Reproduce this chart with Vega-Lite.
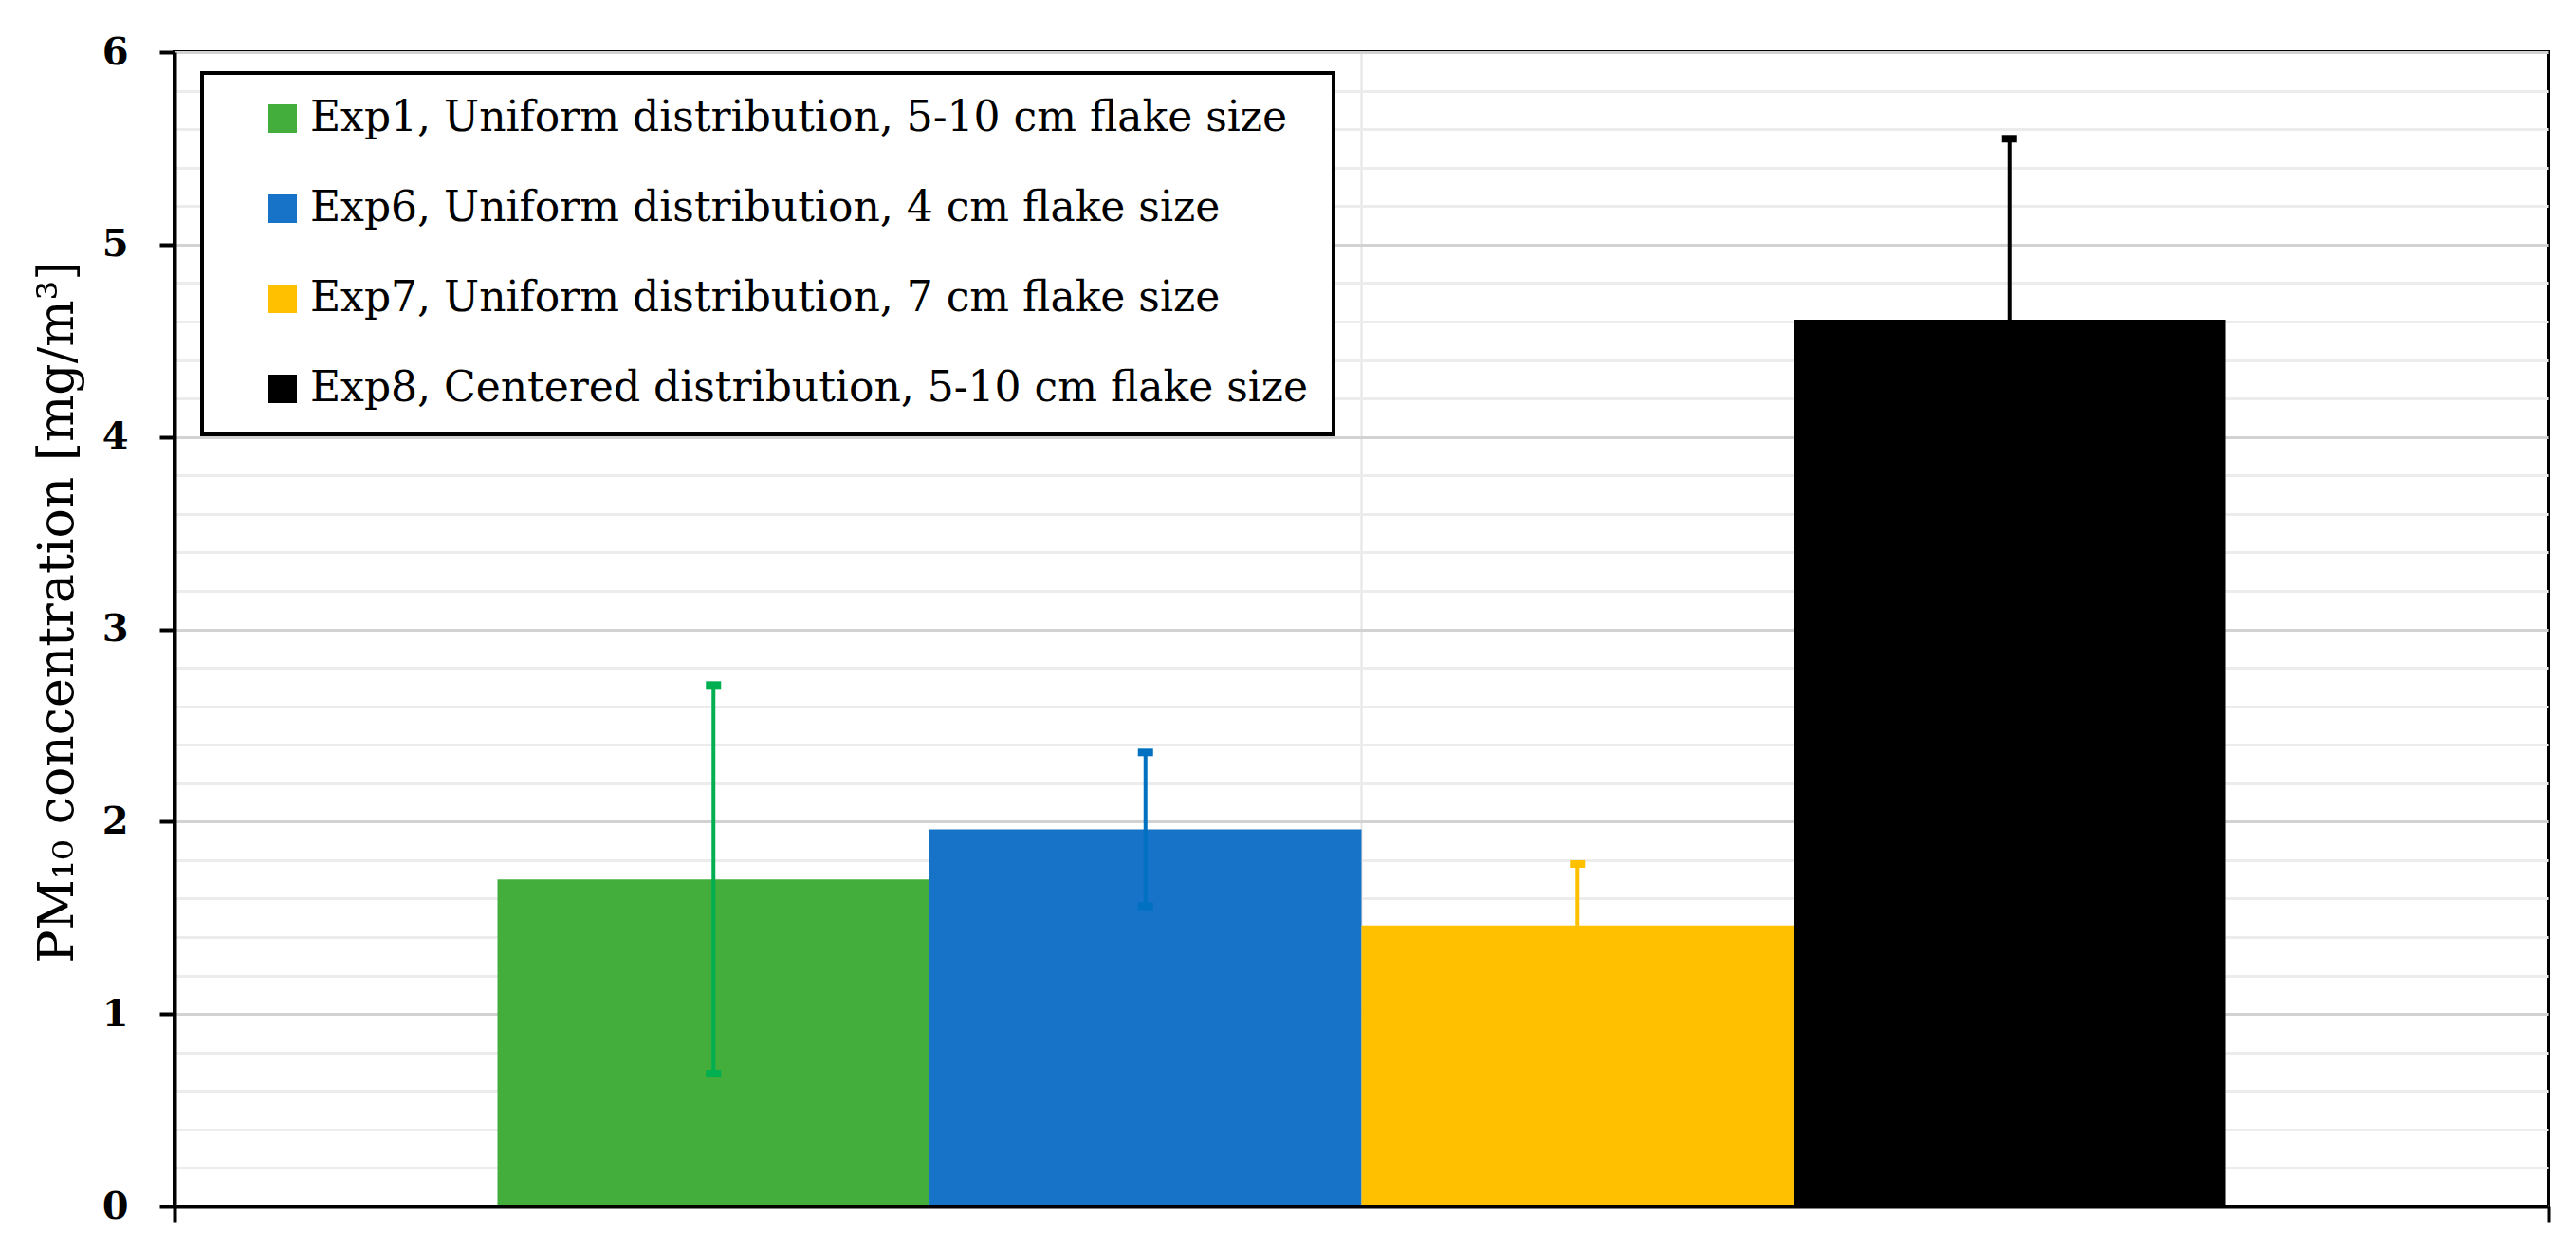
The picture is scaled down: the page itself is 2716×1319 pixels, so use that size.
{
  "$schema": "https://vega.github.io/schema/vega-lite/v6.json",
  "width": 2503,
  "height": 1217,
  "autosize": {"type": "none"},
  "padding": {"left": 184, "top": 55, "right": 29, "bottom": 47},
  "background": "white",
  "config": {
    "view": {"stroke": "black", "strokeWidth": 4},
    "font": "DejaVu Serif"
  },
  "data": {
    "values": [
      {"grp": "PM10", "series": "Exp1, Uniform distribution, 5-10 cm flake size", "value": 1.70, "lo": 0.69, "hi": 2.71},
      {"grp": "PM10", "series": "Exp6, Uniform distribution, 4 cm flake size", "value": 1.96, "lo": 1.56, "hi": 2.36},
      {"grp": "PM10", "series": "Exp7, Uniform distribution, 7 cm flake size", "value": 1.46, "lo": 1.14, "hi": 1.78},
      {"grp": "PM10", "series": "Exp8, Centered distribution, 5-10 cm flake size", "value": 4.61, "lo": 3.67, "hi": 5.55}
    ]
  },
  "resolve": {"axis": {"x": "independent"}},
  "layer": [
    {
      "mark": {"type": "bar", "strokeWidth": 0},
      "encoding": {
        "x": {
          "field": "grp", "type": "nominal",
          "scale": {"type": "band", "paddingInner": 0, "paddingOuter": 0},
          "axis": {
            "orient": "bottom", "title": null, "labels": false, "grid": false,
            "tickBand": "extent", "ticks": true, "tickSize": 16, "tickWidth": 4, "tickColor": "black",
            "domain": true, "domainColor": "black", "domainWidth": 4, "zindex": 1
          }
        },
        "xOffset": {
          "field": "series", "type": "nominal",
          "scale": {"paddingInner": 0, "paddingOuter": 0.7475},
          "sort": null
        },
        "y": {
          "field": "value", "type": "quantitative",
          "scale": {"domain": [0, 6], "nice": false, "zero": true},
          "axis": {
            "values": [0, 0.2, 0.4, 0.6, 0.8, 1, 1.2, 1.4, 1.6, 1.8, 2, 2.2, 2.4, 2.6, 2.8, 3, 3.2, 3.4, 3.6, 3.8, 4, 4.2, 4.4, 4.6, 4.8, 5, 5.2, 5.4, 5.6, 5.8, 6],
            "labelExpr": "abs(datum.value - round(datum.value)) < 0.001 ? format(datum.value, 'd') : ''",
            "grid": true,
            "gridColor": {"condition": {"test": "abs(datum.value - round(datum.value)) < 0.001", "value": "#D2D2D2"}, "value": "#ECECEC"},
            "gridWidth": 3,
            "tickColor": {"condition": {"test": "abs(datum.value - round(datum.value)) < 0.001", "value": "black"}, "value": "transparent"},
            "tickSize": 16, "tickWidth": 4,
            "domain": true, "domainColor": "black", "domainWidth": 4,
            "labelFont": "DejaVu Serif", "labelFontWeight": "bold", "labelFontSize": 40, "labelColor": "black",
            "labelPadding": 33,
            "title": "PM₁₀ concentration [mg/m³]",
            "titleFont": "DejaVu Serif", "titleFontWeight": "normal", "titleFontSize": 52, "titleColor": "black",
            "titleX": -124, "titleY": 590, "titleAngle": -90, "titleBaseline": "middle", "titleAlign": "center"
          }
        },
        "color": {
          "field": "series", "type": "nominal", "sort": null,
          "scale": {"range": ["#44AE3C", "#1673C8", "#FFC000", "#000000"]},
          "legend": {
            "orient": "none", "legendX": 29, "legendY": 22, "title": null, "direction": "vertical",
            "strokeColor": "black", "fillColor": "white", "padding": 26,
            "symbolType": "square", "symbolSize": 900, "symbolStrokeWidth": 0, "symbolOffset": 37,
            "labelOffset": 7, "rowPadding": 51,
            "labelFont": "DejaVu Serif", "labelFontSize": 44, "labelColor": "black", "labelLimit": 3000,
            "encode": {"legend": {"update": {"strokeWidth": {"value": 4}}}}
          }
        }
      }
    },
    {
      "mark": {"type": "rule", "strokeWidth": 4},
      "encoding": {
        "x": {
          "field": "grp", "type": "nominal",
          "axis": {"orient": "top", "title": null, "labels": false, "ticks": false, "domain": false, "grid": true, "gridColor": "#E4E4E4", "gridWidth": 2, "zindex": 0}
        },
        "xOffset": {"field": "series", "type": "nominal", "sort": null},
        "y": {"field": "lo", "type": "quantitative"},
        "y2": {"field": "hi"},
        "stroke": {
          "field": "series", "type": "nominal", "sort": null,
          "scale": {"range": ["#00B050", "#0070C0", "#FFC000", "#000000"]},
          "legend": null
        }
      }
    },
    {
      "transform": [{"fold": ["lo", "hi"], "as": ["end", "yv"]}],
      "mark": {"type": "point", "filled": true, "opacity": 1, "strokeWidth": 0, "size": 256, "shape": "M-1,-0.5L1,-0.5L1,0.5L-1,0.5Z"},
      "encoding": {
        "x": {"field": "grp", "type": "nominal", "axis": null},
        "xOffset": {"field": "series", "type": "nominal", "sort": null},
        "y": {"field": "yv", "type": "quantitative"},
        "fill": {
          "field": "series", "type": "nominal", "sort": null,
          "scale": {"range": ["#00B050", "#0070C0", "#FFC000", "#000000"]},
          "legend": null
        }
      }
    }
  ]
}
